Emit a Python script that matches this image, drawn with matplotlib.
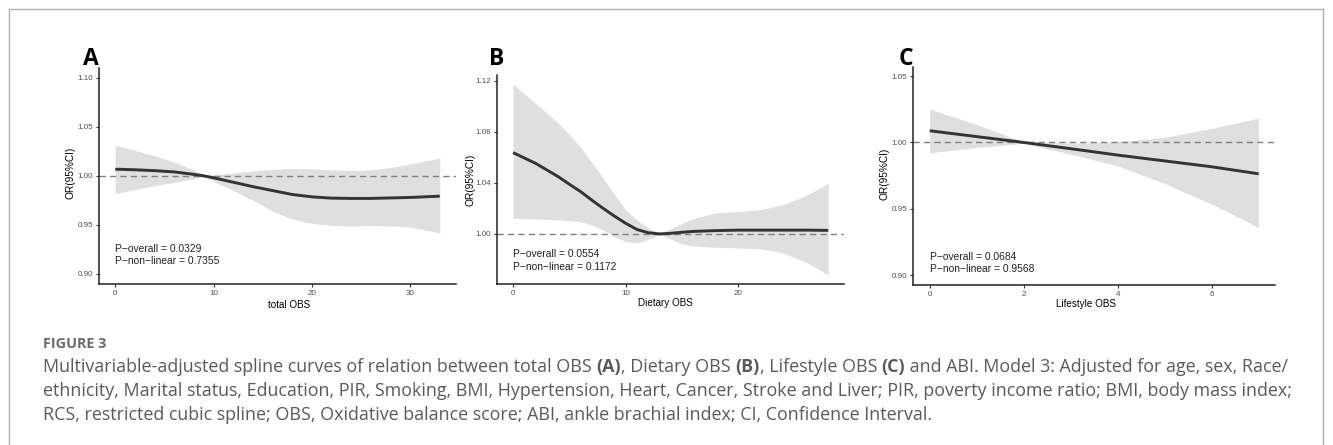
import matplotlib
matplotlib.use('Agg')
import matplotlib.pyplot as plt
from matplotlib.lines import Line2D

# ---------------- data ----------------
a_x = [0, 2, 4, 6, 8, 9, 10, 12, 14, 16, 18, 20, 22, 24, 26, 28, 30, 33]
a_fit = [1.0068, 1.0062, 1.0053, 1.0040, 1.0015, 1.0000, 0.9980, 0.9935, 0.9890, 0.9850,
         0.9810, 0.9786, 0.9773, 0.9770, 0.9770, 0.9775, 0.9780, 0.9793]
a_hi = [1.0313, 1.0260, 1.0205, 1.0140, 1.0060, 1.0005, 1.0010, 1.0030, 1.0050, 1.0065,
        1.0075, 1.0072, 1.0060, 1.0055, 1.0060, 1.0085, 1.0120, 1.0180]
a_lo = [0.9820, 0.9860, 0.9900, 0.9935, 0.9970, 0.9993, 0.9945, 0.9850, 0.9750, 0.9640,
        0.9560, 0.9515, 0.9495, 0.9490, 0.9495, 0.9490, 0.9480, 0.9418]

b_x = [0, 1, 2, 3, 4, 5, 6, 7, 8, 9, 10, 11, 12, 13, 14, 15, 16, 18, 20, 22, 24, 26, 28]
b_fit = [1.0638, 1.0596, 1.0554, 1.0502, 1.0450, 1.0390, 1.0332, 1.0265, 1.0201, 1.0140,
         1.0084, 1.0035, 1.0010, 1.0000, 1.0005, 1.0013, 1.0020, 1.0026, 1.0030, 1.0030,
         1.0030, 1.0030, 1.0028]
b_hi = [1.1176, 1.1100, 1.1025, 1.0950, 1.0870, 1.0780, 1.0680, 1.0560, 1.0440, 1.0310,
        1.0190, 1.0110, 1.0050, 1.0003, 1.0040, 1.0084, 1.0120, 1.0165, 1.0175, 1.0190,
        1.0230, 1.0300, 1.0397]
b_lo = [1.0123, 1.0120, 1.0118, 1.0114, 1.0110, 1.0105, 1.0095, 1.0070, 1.0030, 0.9980,
        0.9940, 0.9930, 0.9958, 0.9997, 0.9960, 0.9920, 0.9905, 0.9895, 0.9890, 0.9885,
        0.9850, 0.9780, 0.9678]

c_x = [0, 1, 2, 3, 4, 5, 6, 7]
c_fit = [1.0088, 1.0044, 1.0000, 0.9953, 0.9905, 0.9861, 0.9817, 0.9764]
c_hi = [1.0251, 1.0135, 1.0005, 0.9995, 1.0005, 1.0038, 1.0105, 1.0183]
c_lo = [0.9922, 0.9962, 0.9993, 0.9912, 0.9824, 0.9691, 0.9536, 0.9360]

a_xticks = [0, 10, 20, 30]
a_yticks = [0.90, 0.95, 1.00, 1.05, 1.10]
b_xticks = [0, 10, 20]
b_yticks = [1.00, 1.04, 1.08, 1.12]
c_xticks = [0, 2, 4, 6]
c_yticks = [0.90, 0.95, 1.00, 1.05]

a_ptext = ["P\u2212overall = 0.0329", "P\u2212non\u2212linear = 0.7355"]
b_ptext = ["P\u2212overall = 0.0554", "P\u2212non\u2212linear = 0.1172"]
c_ptext = ["P\u2212overall = 0.0684", "P\u2212non\u2212linear = 0.9568"]

xlabels = ["total OBS", "Dietary OBS", "Lifestyle OBS"]
ylabel = "OR(95%CI)"
panel_letters = ["A", "B", "C"]

fig_title = "FIGURE 3"
caption_lines = [
    [("Multivariable-adjusted spline curves of relation between total OBS ", False), ("(A)", True),
     (", Dietary OBS ", False), ("(B)", True), (", Lifestyle OBS ", False), ("(C)", True),
     (" and ABI. Model 3: Adjusted for age, sex, Race/", False)],
    [("ethnicity, Marital status, Education, PIR, Smoking, BMI, Hypertension, Heart, Cancer, "
      "Stroke and Liver; PIR, poverty income ratio; BMI, body mass index;", False)],
    [("RCS, restricted cubic spline; OBS, Oxidative balance score; ABI, ankle brachial index; "
      "CI, Confidence Interval.", False)],
]

# ---------------- layout ----------------
W, H = 1333, 445
fig = plt.figure(figsize=(W / 100, H / 100), dpi=100)
fig.patch.set_facecolor('white')

def rect(l, t, r, b):
    return [l / W, 1 - b / H, (r - l) / W, (b - t) / H]

PLOT_FONT = ['Liberation Sans', 'DejaVu Sans']
CAP_FONT = ['Open Sans', 'DejaVu Sans']

def panel(box, x, lo, hi, fit, xlim, ylim, xticks, yticks, xlab, xlab_pos, ptext, pty, ylab_pos):
    l, t, r, b = box
    ax = fig.add_axes(rect(l, t, r, b))
    ax.fill_between(x, lo, hi, color='#dfdfdf', lw=0, zorder=1)
    ax.axhline(1.0, color='#808080', lw=1.0, ls=(0, (4.5, 3)), zorder=2)
    ax.plot(x, fit, color='#333333', lw=2.1, zorder=3, solid_capstyle='butt')
    ax.set_xlim(*xlim)
    ax.set_ylim(*ylim)
    ax.set_xticks(xticks)
    ax.set_yticks(yticks)
    ax.set_xticklabels([f"{v:g}" for v in xticks])
    ax.set_yticklabels([f"{v:.2f}" for v in yticks])
    for s in ['top', 'right']:
        ax.spines[s].set_visible(False)
    for s in ['left', 'bottom']:
        ax.spines[s].set_linewidth(1.1)
        ax.spines[s].set_color('#222222')
    ax.tick_params(direction='out', length=2.3, width=0.8, color='#333333',
                   labelsize=5.8, labelcolor='#4d4d4d', pad=2)
    for lab in ax.get_xticklabels() + ax.get_yticklabels():
        lab.set_family(PLOT_FONT)
    ax.set_xlabel(xlab, fontsize=7.1, family=PLOT_FONT, color='black')
    ax.set_ylabel(ylabel, fontsize=7.3, family=PLOT_FONT, color='black')
    hpx = b - t
    wpx = r - l
    ax.xaxis.set_label_coords((xlab_pos[0] - l) / wpx, (b - xlab_pos[1]) / hpx)
    ax.xaxis.label.set_va('center')
    ax.yaxis.set_label_coords((ylab_pos[0] - l) / wpx, (b - ylab_pos[1]) / hpx)
    ax.yaxis.label.set_va('center')
    for txt, yy in zip(ptext, pty):
        ax.text(0, (b - yy) / hpx, txt, transform=ax.get_xaxis_transform(),
                fontsize=7.4, family=PLOT_FONT, color='#222222', ha='left', va='center')
    return ax

panel((99, 68, 456, 284), a_x, a_lo, a_hi, a_fit, (-1.65, 34.65), (0.8898, 1.1099),
      a_xticks, a_yticks, xlabels[0], (289, 305), a_ptext, (249, 261.5), (70, 173))
panel((497.3, 75, 844, 284.3), b_x, b_lo, b_hi, b_fit, (-1.4, 29.4), (0.9605, 1.1247),
      b_xticks, b_yticks, xlabels[1], (665.5, 303.5), b_ptext, (254.3, 267), (470, 179.5))
panel((913.3, 66.7, 1275, 285.3), c_x, c_lo, c_hi, c_fit, (-0.35, 7.35), (0.8925, 1.057),
      c_xticks, c_yticks, xlabels[2], (1085.5, 304), c_ptext, (256.7, 269.3), (885, 174))

for letter, px in zip(panel_letters, [83, 489, 899]):
    fig.text(px / W, 1 - 65 / H, letter, fontsize=16.5, fontweight='bold',
             family=CAP_FONT, color='black', ha='left', va='baseline')

# border
bc = '#b0b0b0'
fig.add_artist(Line2D([9 / W, 1323 / W], [1 - 9 / H, 1 - 9 / H], color=bc, lw=1.0, transform=fig.transFigure))
fig.add_artist(Line2D([9 / W, 9 / W], [1 - 9 / H, 0], color=bc, lw=1.0, transform=fig.transFigure))
fig.add_artist(Line2D([1323 / W, 1323 / W], [1 - 9 / H, 0], color=bc, lw=1.0, transform=fig.transFigure))

# caption
fig.text(43 / W, 1 - 344 / H, fig_title, fontsize=10.4, fontweight='bold', family=CAP_FONT,
         color='#6a6a6a', ha='left', va='center')

renderer = fig.canvas.get_renderer()
cap_y = [367, 391, 414.5]
for line, yy in zip(caption_lines, cap_y):
    xpx = 43.0
    for txt, bold in line:
        t = fig.text(xpx / W, 1 - yy / H, txt, fontsize=12.85,
                     fontweight='bold' if bold else 'normal', family=CAP_FONT,
                     color='#5a5a5a', ha='left', va='center')
        xpx += t.get_window_extent(renderer).width

fig.savefig('out.png', dpi=100)
